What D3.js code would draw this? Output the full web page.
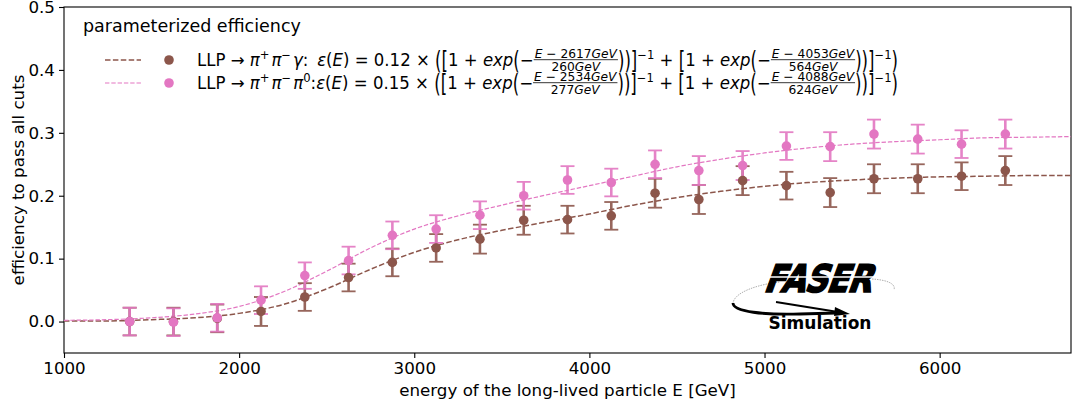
<!DOCTYPE html>
<html><head><meta charset="utf-8">
<script src="https://cdn.jsdelivr.net/npm/d3@7"></script>
<style>
body{margin:0;background:#fff}
svg{display:block}
text{font-family:"DejaVu Sans",sans-serif;fill:#000;white-space:pre}
</style>
</head><body>
<svg id="c" width="1080" height="405"></svg>
<script>
// ---------------- data ----------------
const energies = [1375,1625,1875,2125,2375,2625,2875,3125,3375,3625,3875,4125,4375,4625,4875,5125,5375,5625,5875,6125,6375];
const effGamma = [0.000,0.000,0.005,0.016,0.039,0.070,0.094,0.117,0.131,0.161,0.162,0.168,0.204,0.194,0.224,0.216,0.205,0.227,0.227,0.231,0.240];
const errGamma = [0.022,0.022,0.022,0.023,0.022,0.022,0.022,0.022,0.023,0.023,0.022,0.022,0.023,0.023,0.023,0.022,0.023,0.023,0.023,0.022,0.023];
const effPi0   = [0.000,-0.001,0.006,0.034,0.073,0.097,0.137,0.147,0.169,0.200,0.225,0.221,0.250,0.240,0.248,0.279,0.278,0.298,0.290,0.282,0.298];
const errPi0   = [0.022,0.022,0.022,0.022,0.021,0.022,0.022,0.022,0.022,0.022,0.022,0.022,0.022,0.023,0.023,0.022,0.023,0.023,0.023,0.022,0.023];
const curveE   = [1000,1250,1500,1750,2000,2250,2500,2750,3000,3250,3500,3750,4000,4250,4500,4750,5000,5250,5500,5750,6000,6250,6500,6750];
const fitGamma = [0.001,0.001,0.003,0.006,0.013,0.027,0.052,0.083,0.110,0.130,0.145,0.158,0.171,0.185,0.197,0.207,0.215,0.221,0.225,0.228,0.230,0.231,0.232,0.232];
const fitPi0   = [0.002,0.003,0.006,0.012,0.024,0.047,0.080,0.117,0.147,0.168,0.185,0.201,0.216,0.231,0.246,0.258,0.268,0.276,0.282,0.286,0.289,0.292,0.293,0.294];
const xTicks = [1000,2000,3000,4000,5000,6000];
const yTicks = [0.0,0.1,0.2,0.3,0.4,0.5];
const legendTitle = "parameterized efficiency";
const fitNorm = ["0.12","0.15"];
const fitMid1 = ["2617","2534"];
const fitWid1 = ["260","277"];
const fitMid2 = ["4053","4088"];
const fitWid2 = ["564","624"];
const xLabel = "energy of the long-lived particle E [GeV]";
const yLabel = "efficiency to pass all cuts";

// ---------------- layout ----------------
const W=1080,H=405, L=64, R=1071, T=7, B=353;
const svg = d3.select("#c");
const x = d3.scaleLinear().domain([1000,6750]).range([L,R]);
const y = d3.scaleLinear().domain([-0.05,0.5]).range([B,T]);
const cBrown="#8c564b", cPink="#e377c2";

const ax = svg.append("g").attr("transform",`translate(0,${B})`)
  .call(d3.axisBottom(x).tickValues(xTicks).tickFormat(d3.format("d")).tickSize(5).tickPadding(4));
const ay = svg.append("g").attr("transform",`translate(${L},0)`)
  .call(d3.axisLeft(y).tickValues(yTicks).tickFormat(d3.format(".1f")).tickSize(5).tickPadding(4));
[ax,ay].forEach(a=>{
  a.select(".domain").remove();
  a.selectAll("line").attr("stroke","#000").attr("stroke-width",1.1);
  a.selectAll("text").style("font-size","16.7px").style("font-family","DejaVu Sans").attr("fill","#000");
});
svg.append("rect").attr("x",L).attr("y",T).attr("width",R-L).attr("height",B-T)
  .attr("fill","none").attr("stroke","#000").attr("stroke-width",1.1);

svg.append("text").attr("x",(L+R)/2).attr("y",396).attr("text-anchor","middle")
  .style("font-size","16.7px").text(xLabel);
svg.append("text").attr("transform",`translate(24,${(T+B)/2}) rotate(-90)`).attr("text-anchor","middle")
  .style("font-size","16.7px").text(yLabel);

const plot = svg.append("g");
const line = d3.line().x(d=>x(d[0])).y(d=>y(d[1])).curve(d3.curveMonotoneX);
plot.append("path").datum(curveE.map((e,i)=>[e,fitGamma[i]])).attr("d",line)
  .attr("fill","none").attr("stroke",cBrown).attr("stroke-width",1.5).attr("stroke-dasharray","5.5,2.4");
plot.append("path").datum(curveE.map((e,i)=>[e,fitPi0[i]])).attr("d",line)
  .attr("fill","none").attr("stroke",cPink).attr("stroke-width",1.2).attr("stroke-dasharray","4.4,1.9");

function errbars(vals, errs, color){
  const g = plot.append("g").attr("stroke",color).attr("opacity",0.9);
  energies.forEach((e,i)=>{
    const xc=x(e), y1=y(vals[i]-errs[i]), y2=y(vals[i]+errs[i]);
    g.append("line").attr("x1",xc).attr("x2",xc).attr("y1",y1).attr("y2",y2).attr("stroke-width",2.6);
    g.append("line").attr("x1",xc-7).attr("x2",xc+7).attr("y1",y1).attr("y2",y1).attr("stroke-width",1.8);
    g.append("line").attr("x1",xc-7).attr("x2",xc+7).attr("y1",y2).attr("y2",y2).attr("stroke-width",1.8);
  });
}
function markers(vals,color){
  plot.append("g").selectAll("circle").data(energies).join("circle")
    .attr("cx",d=>x(d)).attr("cy",(d,i)=>y(vals[i])).attr("r",4.8).attr("fill",color);
}
errbars(effGamma,errGamma,cBrown);
errbars(effPi0,errPi0,cPink);
markers(effGamma,cBrown);
markers(effPi0,cPink);

// ---------------- legend ----------------
const lg = svg.append("g");
lg.append("text").attr("x",83).attr("y",32).style("font-size","17.5px").text(legendTitle);

function run(g, x0, base, items, fs){
  let xx = x0;
  for(const it of items){
    if(it.sp){ xx += it.sp; continue; }
    if(it.frac){
      const f = fs*0.74;
      const gn = g.append("g"), gd = g.append("g");
      const wn = run(gn,0,0,it.frac[0],f), wd = run(gd,0,0,it.frac[1],f);
      const w = Math.max(wn,wd)+2;
      gn.attr("transform",`translate(${xx+(w-wn)/2},${base-8.5})`);
      gd.attr("transform",`translate(${xx+(w-wd)/2},${base+4.8})`);
      g.append("line").attr("x1",xx).attr("x2",xx+w).attr("y1",base-6.3).attr("y2",base-6.3)
        .attr("stroke","#000").attr("stroke-width",0.8);
      xx += w; continue;
    }
    const size = it.sup ? fs*0.7 : fs;
    const yy = it.sup ? base - fs*0.42 : base;
    const t = g.append("text").attr("x",xx).attr("y",yy).style("font-size",size+"px")
      .style("font-style", it.i ? "italic":"normal").text(it.s);
    if(it.big){
      const cy = base - fs*0.3;
      t.attr("transform",`translate(0,${cy}) scale(1,1.5) translate(0,${-cy})`);
    }
    xx += t.node().getComputedTextLength();
  }
  return xx - x0;
}
function formula(k, lead){
  const N = (m)=>[{s:"E",i:true},{s:" − "+m},{s:"GeV",i:true}];
  const D = (w)=>[{s:w},{s:"GeV",i:true}];
  return lead.concat([
    {s:"ε",i:true},{s:"("},{s:"E",i:true},{s:")"},{s:" = "+fitNorm[k]+" × "},
    {s:"(",big:true},{s:"[",big:true},{s:"1 + "},{s:"exp",i:true},{s:"(",big:true},{s:"−"},
    {frac:[N(fitMid1[k]),D(fitWid1[k])]},
    {s:")",big:true},{s:")",big:true},{s:"]",big:true},{s:"−1",sup:true},{s:" + "},
    {s:"[",big:true},{s:"1 + "},{s:"exp",i:true},{s:"(",big:true},{s:"−"},
    {frac:[N(fitMid2[k]),D(fitWid2[k])]},
    {s:")",big:true},{s:")",big:true},{s:"]",big:true},{s:"−1",sup:true},{s:")",big:true}
  ]);
}
const leads = [
  [{s:"LLP → "},{s:"π",i:true},{s:"+",sup:true},{sp:2},{s:"π",i:true},{s:"−",sup:true},{sp:2},{s:"γ",i:true},{s:":"},{sp:9}],
  [{s:"LLP → "},{s:"π",i:true},{s:"+",sup:true},{sp:2},{s:"π",i:true},{s:"−",sup:true},{sp:2},{s:"π",i:true},{s:"0",sup:true},{s:":"}]
];
const entryColors=[cBrown,cPink], entryY=[60,83], entryDash=["5.5,2.4","4.4,1.9"], entryW=[1.5,1.2];
const textStart=197, textEnd=898;
[0,1].forEach(k=>{
  lg.append("line").attr("x1",105).attr("x2",141).attr("y1",entryY[k]).attr("y2",entryY[k])
    .attr("stroke",entryColors[k]).attr("stroke-width",entryW[k]).attr("stroke-dasharray",entryDash[k]);
  lg.append("circle").attr("cx",169).attr("cy",entryY[k]).attr("r",4.8).attr("fill",entryColors[k]);
  const ge = lg.append("g");
  const inner = ge.append("g");
  const w = run(inner,0,0,formula(k,leads[k]),17);
  ge.attr("transform",`translate(${textStart},${entryY[k]+6}) scale(${(textEnd-textStart)/w},1)`);
});

// ---------------- FASER logo ----------------
const logo = svg.append("g");
logo.append("path").attr("d","M733,304 C733,292 760,284 780,282")
  .attr("fill","none").attr("stroke","#999").attr("stroke-width",0.8).attr("stroke-dasharray","1.5,1");
logo.append("path").attr("d","M872,279 C888,280 896,284 894,290")
  .attr("fill","none").attr("stroke","#999").attr("stroke-width",0.8).attr("stroke-dasharray","1.5,1");
logo.append("path").attr("d","M733,303 C733,312 765,315 800,314 L836,313")
  .attr("fill","none").attr("stroke","#000").attr("stroke-width",2.8);
logo.append("path").attr("d","M776,302 L838,312")
  .attr("fill","none").attr("stroke","#000").attr("stroke-width",1.8);
logo.append("path").attr("d","M850,314 L835,307 L834,316 Z").attr("fill","#000");
logo.append("text").attr("x",0).attr("y",0)
  .attr("transform","translate(763,292) skewX(-20) scale(0.88,1.05)")
  .style("font-size","36px").style("font-weight","bold").style("letter-spacing","-1px")
  .attr("stroke","#000").attr("stroke-width",1.6).text("FASER");
logo.append("line").attr("x1",766).attr("x2",884).attr("y1",277).attr("y2",277).attr("stroke","#fff").attr("stroke-width",1.3);
logo.append("text").attr("x",820).attr("y",329).attr("text-anchor","middle")
  .style("font-size","17px").style("font-weight","bold").text("Simulation");
</script>
</body></html>
